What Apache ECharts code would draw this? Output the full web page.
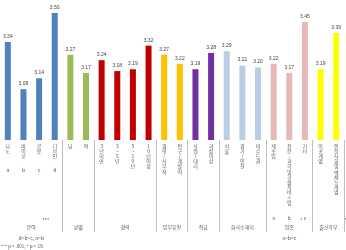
<!DOCTYPE html>
<html>
<head>
<meta charset="utf-8">
<script src="https://cdn.jsdelivr.net/npm/echarts@6/dist/echarts.min.js"></script>
<style>
html, body { margin: 0; padding: 0; background: #fff; }
#chart { width: 346px; height: 250px; }
</style>
</head>
<body>
<div id="chart"></div>
<script>
var categories = ['나노', '바이오', '로봇', '디자인', '남', '여', '3년 미만', '3~5년', '5~10년', '10년 이상',
	'경영/사무직', '연구/개발직', '사원/대리', '과장 이상', '서울', '경기/인천', '비수도권',
	'제조업', '전문, 과학 및 기술 서비스업', '기타', '이공계열', '인문사회 및 예체능계열'];
var values = [3.34, 3.08, 3.14, 3.50, 3.27, 3.17, 3.24, 3.18, 3.19, 3.32,
	3.27, 3.22, 3.19, 3.28, 3.29, 3.21, 3.20, 3.22, 3.17, 3.45, 3.19, 3.39];
var groupNames = ['분야', '성별', '경력', '업무유형', '직급', '회사소재지', '업종', '출신학부'];
var groupSizes = [4, 2, 4, 2, 2, 3, 3, 2];
var groupColors = ['#4F81BD', '#9BBB59', '#C00000', '#FFC000', '#7030A0', '#B9CDE5', '#E6B9B8', '#FFFF00'];
var groupSig = ['***', '', '', '', '', '', '*', '**'];
var groupPostHoc = ['d>b=c, a>b', '', '', '', '', '', 'a=b>c', ''];
var postHoc = ['a', 'b', 'c', 'd', '', '', '', '', '', '', '', '', '', '', '', '', '', 'a', 'b', 'c', '', ''];
var postHocY = [170, 0, 0, 0, 0, 0, 218, 0];
var footnote = '*** p < .001, * p < .05';

// group index of each bar + group boundaries
var barGroup = [];
var boundaries = {};
var start = 0;
for (var g = 0; g < groupSizes.length; g++) {
	for (var k = 0; k < groupSizes[g]; k++) {
		barGroup.push(g);
	}
	start += groupSizes[g];
	if (g < groupSizes.length - 1) boundaries[start] = true;
}

var barData = [];
for (var i = 0; i < values.length; i++) {
	barData.push({
		value: values[i],
		itemStyle: { color: groupColors[barGroup[i]] }
	});
}

var chart = echarts.init(document.getElementById('chart'));
var option = {
	animation: false,
	grid: { left: -2, right: 2, top: 13, bottom: 110 },
	xAxis: {
		type: 'category',
		data: categories,
		axisLine: { show: false },
		axisTick: {
			show: true,
			length: 92,
			interval: function (index) { return !!boundaries[index]; },
			lineStyle: { color: '#BFBFBF', width: 1 }
		},
		axisLabel: {
			interval: 0,
			margin: 3,
			fontSize: 5,
			lineHeight: 5.2,
			color: '#595959',
			fontFamily: 'Noto Sans CJK KR',
			verticalAlign: 'top',
			// stacked (upright) characters, spaces dropped
			formatter: function (v) { return v.replace(/ /g, '').split('').join('\n'); }
		}
	},
	yAxis: {
		type: 'value',
		min: 2.8,
		max: 3.5,
		show: false,
		splitLine: { show: false }
	},
	series: [{
		type: 'bar',
		barWidth: 6,
		data: barData,
		label: {
			show: true,
			position: 'top',
			distance: 3,
			fontSize: 5,
			color: '#404040',
			fontFamily: 'Liberation Sans',
			formatter: function (p) { return p.value.toFixed(2); }
		}
	}]
};
chart.setOption(option);

// annotations placed with the axis scale
var txt = { fontSize: 5, fill: '#595959', fontFamily: 'Noto Sans CJK KR' };
var graphics = [];
var idx = 0;
for (var g = 0; g < groupNames.length; g++) {
	var x0 = chart.convertToPixel({ xAxisIndex: 0 }, idx);
	var x1 = chart.convertToPixel({ xAxisIndex: 0 }, idx + groupSizes[g] - 1);
	var cx = (x0 + x1) / 2;
	graphics.push({ type: 'text', x: cx, y: 227, style: Object.assign({ text: groupNames[g], align: 'center', verticalAlign: 'middle' }, txt) });
	if (groupSig[g]) {
		graphics.push({ type: 'text', x: cx + 6 + groupNames[g].length * 2.5, y: 220, style: Object.assign({ text: groupSig[g], align: 'left', verticalAlign: 'middle' }, txt) });
	}
	if (groupPostHoc[g]) {
		graphics.push({ type: 'text', x: cx, y: 238, style: Object.assign({ text: groupPostHoc[g], align: 'center', verticalAlign: 'middle' }, txt) });
	}
	for (var k = 0; k < groupSizes[g]; k++) {
		var j = idx + k;
		if (postHoc[j]) {
			graphics.push({ type: 'text', x: chart.convertToPixel({ xAxisIndex: 0 }, j), y: postHocY[g], style: Object.assign({ text: postHoc[j], align: 'center', verticalAlign: 'middle' }, txt) });
		}
	}
	idx += groupSizes[g];
}
graphics.push({ type: 'text', left: 1, top: 244, style: Object.assign({}, txt, { text: footnote, fontSize: 4.5 }) });
chart.setOption({ graphic: graphics });
</script>
</body>
</html>
